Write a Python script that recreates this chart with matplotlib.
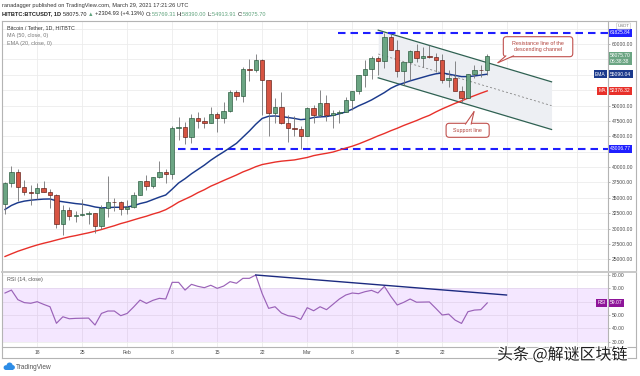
import numpy as np
import pandas as pd
import matplotlib
matplotlib.use("Agg")
import matplotlib.pyplot as plt
import matplotlib.dates as mdates
import matplotlib.patheffects as pe
from matplotlib.patches import Polygon, FancyBboxPatch, Circle, Rectangle
from matplotlib.lines import Line2D
from matplotlib.transforms import blended_transform_factory
from matplotlib.ticker import FixedLocator, FixedFormatter

plt.rcParams['font.family'] = ['Liberation Sans', 'DejaVu Sans']

# ---------------- data ----------------
dates = pd.date_range("2021-01-13", "2021-03-29", freq="D")
opens = [34050, 37400, 39200, 36800, 36000, 35800, 36600, 35900, 35500, 30800,
         33000, 32100, 32250, 32300, 32450, 30400, 33350, 34300, 34250, 33100,
         33500, 35500, 37700, 36950, 38300, 39250, 38850, 46300, 46500, 44850,
         47900, 47400, 47200, 48650, 47900, 49150, 52150, 51600, 55950, 55850,
         57400, 54150, 48850, 49750, 47100, 46300, 46150, 45100, 49550, 48450,
         50400, 48450, 48750, 48900, 50950, 52350, 54900, 55900, 57800, 57250,
         61150, 59000, 55600, 57000, 58900, 57650, 58100, 57950, 57400, 54150,
         54400, 52300, 51300, 55050, 55850, 55769.31]
highs = [37600, 40100, 39700, 37900, 37000, 37400, 37800, 36400, 35600, 33800,
         33500, 32900, 34800, 32900, 32500, 33800, 38600, 34900, 34400, 34700,
         35900, 37700, 38700, 38300, 40900, 39700, 46700, 48100, 47300, 48600,
         48900, 48100, 49700, 49000, 50600, 52500, 52500, 56300, 57500, 58350,
         57500, 54200, 51300, 52200, 48400, 48300, 46600, 49800, 50100, 52600,
         51700, 49300, 49200, 51400, 52400, 54900, 57400, 58100, 58000, 61825.84,
         61700, 60600, 56900, 58950, 60000, 59500, 59900, 58600, 58400, 55800,
         57200, 53200, 55050, 56600, 56550, 58390.00]
lows = [32400, 36700, 34400, 35400, 33800, 34800, 35900, 33400, 30100, 28900,
        31400, 31000, 32000, 30800, 29200, 29900, 31900, 32800, 32200, 32300,
        33400, 35400, 36200, 36600, 38200, 37400, 38000, 44400, 43800, 43900,
        46300, 46400, 47100, 45700, 47200, 48900, 50900, 50500, 54000, 55500,
        48500, 45000, 47100, 47000, 44100, 45000, 43006.77, 45000, 47100, 48100,
        47500, 46300, 47100, 48900, 49300, 51900, 53000, 54300, 55000, 56100,
        59000, 54600, 53300, 54200, 57000, 56300, 57800, 55500, 53700, 53000,
        52900, 50400, 51200, 54500, 54700, 54913.91]
closes = [37400, 39200, 36800, 36000, 35800, 36600, 35900, 35500, 30800, 33000,
          32100, 32250, 32300, 32450, 30400, 33350, 34300, 34250, 33100, 33500,
          35500, 37700, 36950, 38300, 39250, 38850, 46300, 46500, 44850, 47900,
          47400, 47200, 48650, 47900, 49150, 52150, 51600, 55950, 55850, 57400,
          54150, 48850, 49750, 47100, 46300, 46150, 45100, 49550, 48450, 50400,
          48450, 48750, 48900, 50950, 52350, 54900, 55900, 57800, 57250, 61150,
          59000, 55600, 57000, 58900, 57650, 58100, 57950, 57400, 54150, 54400,
          52300, 51300, 55050, 55850, 55770.77, 58075.70]
ema20 = [33100, 33750, 34200, 34450, 34600, 34700, 34780, 34800, 34500, 34350,
         34200, 34050, 33950, 33750, 33500, 33350, 33400, 33450, 33450, 33500,
         33700, 34050, 34300, 34700, 35100, 35450, 36400, 37400, 38100, 38900,
         39600, 40300, 41100, 41800, 42450, 43150, 43850, 44850, 45850, 46950,
         47900, 48250, 48300, 48200, 48050, 47900, 47700, 47800, 48050, 48150,
         48200, 48400, 48650, 48950, 49400, 49950, 50400, 50900, 51500, 52100,
         52800, 53300, 53650, 54000, 54300, 54600, 54900, 55150, 55300, 55100,
         54900, 54700, 54700, 54800, 54950, 55090.04]
ma50 = [25450, 25880, 26300, 26650, 27000, 27320, 27600, 27850, 28130, 28400,
        28650, 28850, 29080, 29300, 29560, 29830, 30150, 30450, 30800, 31080,
        31400, 31710, 32000, 32350, 32650, 33060, 33640, 34290, 34770, 35260,
        35830, 36310, 36880, 37330, 37800, 38250, 38700, 39200, 39600, 40050,
        40400, 40600, 40800, 40950, 41050, 41150, 41350, 41550, 41850, 42050,
        42230, 42430, 42750, 43080, 43380, 43750, 44170, 44600, 45050, 45450,
        45900, 46300, 46750, 47150, 47550, 48000, 48400, 48950, 49450, 49900,
        50350, 50750, 51200, 51600, 52000, 52376.32]
rsi14 = [66.5, 68.7, 61.5, 59.3, 58.8, 60.0, 58.0, 56.2, 43.8, 48.7,
         47.2, 47.5, 47.6, 47.7, 42.5, 51.2, 53.0, 53.0, 49.5, 51.2,
         56.0, 61.2, 58.7, 61.0, 62.5, 62.0, 74.5, 74.5, 68.7, 73.0,
         71.5, 70.5, 72.3, 70.0, 71.7, 75.0, 73.8, 77.5, 77.5, 80.0,
         66.0, 55.0, 56.2, 51.5, 49.5, 48.8, 46.7, 55.5, 53.2, 56.2,
         54.0, 58.0, 62.0, 65.0, 66.5, 66.0, 67.5, 68.5, 66.5, 71.5,
         64.0, 57.5, 59.5, 62.0, 59.6, 59.7, 59.8, 55.0, 50.0, 50.7,
         46.2, 43.7, 52.5, 53.7, 54.0, 59.07]

price_ticks = [25000, 27500, 30000, 32500, 35000, 37500, 40000, 42500, 45000,
               47500, 50000, 52500, 55000, 57500, 60000, 62500]
price_labels_shown = [25000, 27500, 30000, 32500, 35000, 37500, 40000, 45000,
                      47500, 50000, 60000]
rsi_ticks = [30, 40, 50, 60, 70, 80]
rsi_labels_shown = [30, 40, 50, 70, 80]
date_ticks = ["2021-01-18", "2021-01-25", "2021-02-01", "2021-02-08", "2021-02-15",
              "2021-02-22", "2021-03-01", "2021-03-08", "2021-03-15", "2021-03-22",
              "2021-04-01", "2021-04-12"]
date_labels = ["18", "25", "Feb", "8", "15", "22", "Mar", "8", "15", "22", "", ""]

level_high = 61825.84
level_low = 43006.77
level_high_start = "2021-03-05 19:00"
level_low_start = "2021-02-08 23:00"
chan_start, chan_end = "2021-03-12 01:00", "2021-04-08 00:00"
chan_upper = [62250, 53850]
chan_lower = [54500, 46100]
div_dates = ["2021-02-21", "2021-04-01"]
div_vals = [80.0, 65.0]

# ---------------- figure ----------------
W, H = 640, 376
fig = plt.figure(figsize=(W / 100, H / 100), dpi=100)
fig.patch.set_facecolor("white")


def fx(x):
    return x / W


def fy(y):
    return 1 - y / H


ax = fig.add_axes([fx(2), fy(272), (608 - 2) / W, (272 - 21) / H])
axr = fig.add_axes([fx(2), fy(346.5), (608 - 2) / W, (346.5 - 272) / H])

xd = mdates.date2num(dates)
d0 = xd[0]
for a in (ax, axr):
    a.set_xlim(d0 - 0.467, d0 + 93.78)
    for s in a.spines.values():
        s.set_visible(False)
    a.set_facecolor("none")
ax.set_ylim(22927, 63740)
axr.set_ylim(26.4, 82.25)

GRID = "#ececec"
TXT = "#4a4a4a"
FS = 3.6

tick_nums = mdates.date2num(pd.to_datetime(date_ticks))
for a in (ax, axr):
    a.xaxis.set_major_locator(FixedLocator(tick_nums))
    a.grid(True, axis="x", color=GRID, lw=0.6, zorder=0)
    a.grid(True, axis="y", color=GRID, lw=0.6, zorder=0)
    a.set_axisbelow(True)
ax.yaxis.set_major_locator(FixedLocator(price_ticks))
ax.yaxis.set_major_formatter(FixedFormatter(
    [f"{v:.2f}" if v in price_labels_shown else "" for v in price_ticks]))
axr.yaxis.set_major_locator(FixedLocator(rsi_ticks))
axr.yaxis.set_major_formatter(FixedFormatter(
    [f"{v:.2f}" if v in rsi_labels_shown else "" for v in rsi_ticks]))
for a in (ax, axr):
    a.yaxis.tick_right()
    a.tick_params(axis="y", length=1.6, width=0.5, color="#9a9a9a", pad=1.0,
                  labelsize=FS, labelcolor=TXT)
ax.tick_params(axis="x", length=0, labelbottom=False)
axr.xaxis.set_major_formatter(FixedFormatter(date_labels))
axr.tick_params(axis="x", length=0, pad=2.4, labelsize=FS, labelcolor=TXT)

# channel (behind candles)
cx = mdates.date2num(pd.to_datetime([chan_start, chan_end]))
ax.fill_between(cx, chan_lower, chan_upper, color="#edeff3", lw=0, zorder=1)
ax.plot(cx, chan_upper, color="#2f6152", lw=0.9, zorder=2)
ax.plot(cx, chan_lower, color="#2f6152", lw=0.9, zorder=2)
ax.plot(cx, [(u + l) / 2 for u, l in zip(chan_upper, chan_lower)], color="#8a8a8a",
        lw=0.6, ls=(0, (2.5, 2.5)), zorder=2)

# horizontal levels
xr = d0 + 93.78
for lvl, st in ((level_high, level_high_start), (level_low, level_low_start)):
    ax.plot([mdates.date2num(pd.Timestamp(st)), xr], [lvl, lvl], color="#1f1fff",
            lw=1.5, ls=(0, (3.6, 2.4)), zorder=3, solid_capstyle="butt")

# moving averages
ax.plot(xd, ma50, color="#e8302a", lw=1.0, zorder=4)
ax.plot(xd, ema20, color="#1b3a8c", lw=1.05, zorder=4)

# candles
o = np.array(opens, float)
c = np.array(closes, float)
up = c >= o
ax.vlines(xd, lows, highs, colors="#737375", lw=0.6, zorder=5)
ax.bar(xd, np.maximum(np.abs(c - o), 1), bottom=np.minimum(o, c), width=0.68,
       color=np.where(up, "#6ba583", "#d75442"),
       edgecolor=np.where(up, "#225437", "#5b1a13"), lw=0.45, zorder=6)

# callouts
MA_ASPECT = (1 / 0.00615) / (1 / 6.43)


def callout(a, i0, i1, ptop, pbot, base, tip, text):
    X0, X1 = d0 + i0, d0 + i1
    box = FancyBboxPatch((X0, pbot), X1 - X0, ptop - pbot,
                         boxstyle="round,pad=0,rounding_size=0.5",
                         mutation_aspect=MA_ASPECT, fc="white", ec="#c0504d",
                         lw=0.8, zorder=8)
    a.add_patch(box)
    pts = [(d0 + base[0][0], base[0][1]), (d0 + base[1][0], base[1][1]),
           (d0 + tip[0], tip[1])]
    a.add_patch(Polygon(pts, closed=True, fc="white", ec="none", zorder=9))
    for p in pts[:2]:
        a.plot([p[0], pts[2][0]], [p[1], pts[2][1]], color="#c0504d", lw=0.8,
               zorder=10, solid_capstyle="round")
    a.text((X0 + X1) / 2, (ptop + pbot) / 2, text, ha="center", va="center",
           fontsize=3.9, color="#b0413a", zorder=11, linespacing=1.2)


callout(ax, 77.5, 88.3, 61187, 57935, [(77.9, 58080), (79.1, 58080)],
        (76.67, 56960), "Resistance line of the\ndescending channel")
callout(ax, 68.6, 75.3, 47106, 44829, [(71.6, 46960), (72.5, 46960)],
        (72.94, 48992), "Support line")

# right axis tags
bt = blended_transform_factory(ax.transAxes, ax.transData)
btr = blended_transform_factory(axr.transAxes, axr.transData)


def tag(a, tr, val, text, color, dx=1.3, dy=0, ha="left", va="center", fs=FS):
    a.annotate(text, xy=(1, val), xycoords=tr, xytext=(dx, dy),
               textcoords="offset points", ha=ha, va=va, fontsize=fs,
               color="white", linespacing=1.15,
               bbox=dict(boxstyle="square,pad=0.3", fc=color, ec="none"),
               annotation_clip=False, zorder=20)


RSI_COL = "#9a62b8"
tag(ax, bt, level_high, f"{level_high:.2f}", "#1f1fff")
tag(ax, bt, level_low, f"{level_low:.2f}", "#1f1fff")
tag(ax, bt, closes[-1], f"{closes[-1]:.2f}\n06:38:38", "#6ba583", va="top", dy=2.0)
tag(ax, bt, ema20[-1], f"{ema20[-1]:.2f}", "#1b3a8c")
tag(ax, bt, ema20[-1], "EMA", "#1b3a8c", dx=-1.6, ha="right")
tag(ax, bt, ma50[-1], f"{ma50[-1]:.2f}", "#e8302a")
tag(ax, bt, ma50[-1], "MA", "#e8302a", dx=-1.6, ha="right")
tag(axr, btr, rsi14[-1], f"{rsi14[-1]:.2f}", "#8e1599")
tag(axr, btr, rsi14[-1], "RSI", "#8e1599", dx=-1.6, ha="right")

# RSI pane
axr.axhspan(30, 70, fc="#9915ff", alpha=0.1, lw=0, zorder=1)
axr.plot(xd, rsi14, color=RSI_COL, lw=0.85, zorder=4)
axr.plot(mdates.date2num(pd.to_datetime(div_dates)), div_vals, color="#1c2a80",
         lw=1.0, zorder=5)


def fline(x0, y0, x1, y1, color="#b4b4b4", lw=0.8):
    fig.add_artist(Line2D([fx(x0), fx(x1)], [fy(y0), fy(y1)], color=color, lw=lw,
                          transform=fig.transFigure, zorder=30))


fline(2, 21, 636, 21)
fline(2, 357.5, 636, 357.5)
fline(2, 21, 2, 357.5)
fline(636, 21, 636, 357.5)
fline(608, 21, 608, 346.5)
fline(2, 346.5, 636, 346.5)
fline(2, 272, 636, 272, color="#c8c8c8", lw=1.4)

# header texts
fig.text(fx(2), fy(5), "ranadagger published on TradingView.com, March 29, 2021 17:21:26 UTC",
         fontsize=4.1, color="#333333", va="center", ha="left")
renderer = fig.canvas.get_renderer()
GREEN = "#5fa37c"
pieces = [("HITBTC:BTCUSDT, 1D ", "#222222", "bold"), ("58075.70 ", "#222222", "normal"),
          ("\u25b2 ", GREEN, "normal"), ("+2304.93 (+4.13%) ", "#222222", "normal"),
          ("O:", "#222222", "normal"), ("55769.31 ", GREEN, "normal"),
          ("H:", "#222222", "normal"), ("58390.00 ", GREEN, "normal"),
          ("L:", "#222222", "normal"), ("54913.91 ", GREEN, "normal"),
          ("C:", "#222222", "normal"), ("58075.70", GREEN, "normal")]
xp = 2.0
for s, col, wt in pieces:
    t = fig.text(fx(xp), fy(14), s, fontsize=4.1, color=col, weight=wt,
                 va="center", ha="left")
    xp += t.get_window_extent(renderer=renderer).width

# legends
ax.text(0.008, 0.972, "Bitcoin / Tether, 1D, HITBTC", transform=ax.transAxes,
        fontsize=3.9, color="#333333", va="center", ha="left", zorder=30)
ax.text(0.008, 0.942, "MA (50, close, 0)", transform=ax.transAxes,
        fontsize=3.9, color="#777777", va="center", ha="left", zorder=30)
ax.text(0.008, 0.912, "EMA (20, close, 0)", transform=ax.transAxes,
        fontsize=3.9, color="#777777", va="center", ha="left", zorder=30)
axr.text(0.008, 0.9, "RSI (14, close)", transform=axr.transAxes,
         fontsize=3.9, color="#555555", va="center", ha="left", zorder=30)

fig.text(fx(623.5), fy(26), "USDT", fontsize=3.2, color="#777777", ha="center",
         va="center", bbox=dict(boxstyle="round,pad=0.25", fc="white", ec="#cccccc", lw=0.5))

# TradingView logo: small cloud built from circles (pixel -> inch transform)
LOGO = "#2d8ce6"
for cxp, cyp, r in ((6.0, 367.6, 2.4), (9.6, 365.6, 3.1), (12.6, 367.4, 2.3)):
    fig.add_artist(Circle((cxp / 100, (H - cyp) / 100), r / 100, fc=LOGO, ec="none",
                          transform=fig.dpi_scale_trans))
fig.add_artist(Rectangle((6.0 / 100, (H - 369.9) / 100), 6.6 / 100, 2.4 / 100,
                         fc=LOGO, ec="none", transform=fig.dpi_scale_trans))
fig.text(fx(16), fy(367.5), "TradingView", fontsize=4.7, color="#555555", ha="left",
         va="center")

fig.text(fx(497), fy(355), "头条 @解谜区块链", fontsize=11.5, color="#1e1e1e",
         ha="left", va="center", family=["Noto Sans CJK SC", "DejaVu Sans"],
         path_effects=[pe.withStroke(linewidth=1.5, foreground="white")], zorder=40)

fig.savefig("out.png", dpi=100)
